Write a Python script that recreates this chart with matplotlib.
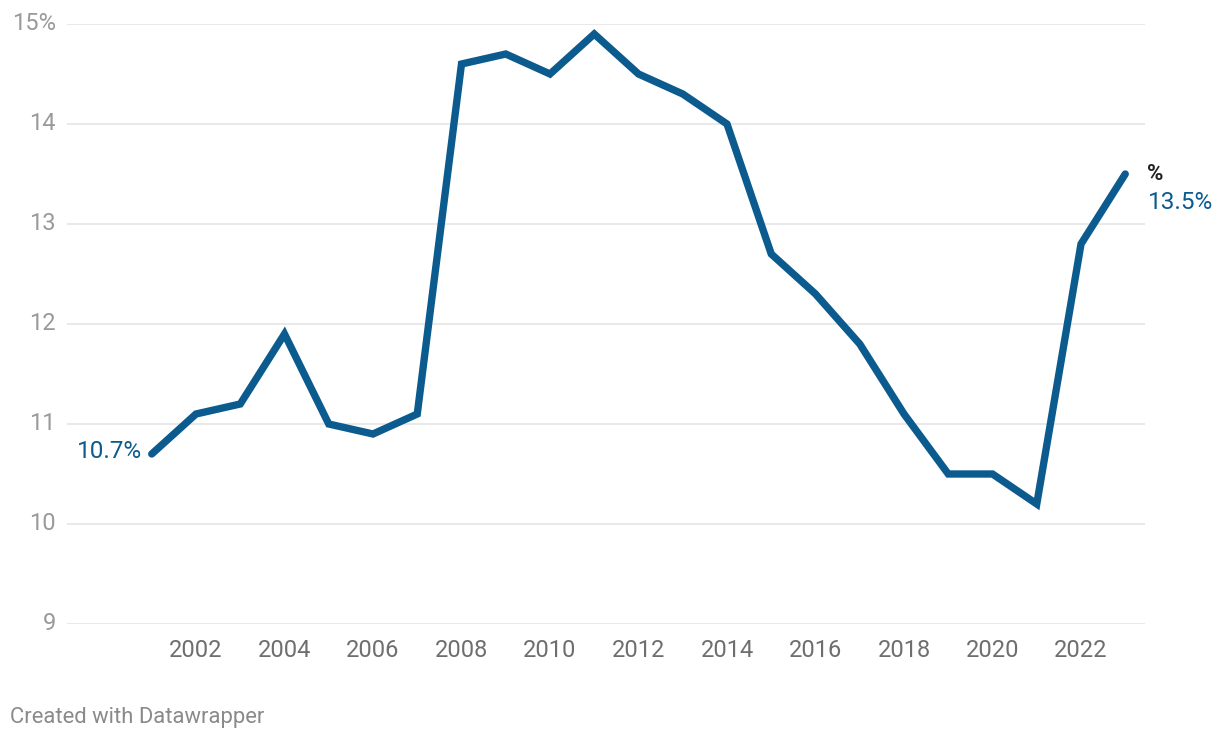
import matplotlib
matplotlib.use("Agg")
import matplotlib.pyplot as plt

years = list(range(2001, 2024))
values = [10.7, 11.1, 11.2, 11.9, 11.0, 10.9, 11.1, 14.6, 14.7, 14.5, 14.9, 14.5,
          14.3, 14.0, 12.7, 12.3, 11.8, 11.1, 10.5, 10.5, 10.2, 12.8, 13.5]
y_ticks = [9, 10, 11, 12, 13, 14, 15]
y_labels = ["9", "10", "11", "12", "13", "14", "15%"]
x_ticks = list(range(2002, 2023, 2))

plt.rcParams['font.family'] = ['Roboto', 'DejaVu Sans']
blue = "#0b5b8f"

fig = plt.figure(figsize=(12.2, 7.4), dpi=100)
ax = fig.add_axes([67/1220, 1-624/740, (1145-67)/1220, 600/740])
ax.set_xlim(1999.085, 2023.446)
ax.set_ylim(9, 15)

for t in y_ticks:
    ax.axhline(t, color="#e3e3e3", lw=1.1, zorder=1)

ax.plot(years, values, color=blue, lw=5.3, solid_capstyle="round",
        solid_joinstyle="miter", zorder=3, clip_on=False)

for s in ax.spines.values():
    s.set_visible(False)
ax.set_yticks(y_ticks)
ax.set_yticklabels(y_labels)
ax.set_xticks(x_ticks)
ax.set_xticklabels([str(x) for x in x_ticks])
ax.tick_params(axis="y", length=0, pad=8, labelsize=17, labelcolor="#9a9a9a")
ax.tick_params(axis="x", length=0, pad=11, labelsize=17, labelcolor="#6e6e6e")
for lab in ax.get_yticklabels():
    lab.set_verticalalignment("center")

ax.annotate(f"{values[0]}%", xy=(years[0], values[0]), xytext=(-7, 2),
            textcoords="offset points", ha="right", va="center",
            fontsize=17.5, color=blue)
ax.annotate("%", xy=(years[-1], values[-1]), xytext=(16, 0),
            textcoords="offset points", ha="left", va="center",
            fontsize=16, color="#222222", fontweight="bold")
ax.annotate(f"{values[-1]}%", xy=(years[-1], values[-1]), xytext=(16, -20.5),
            textcoords="offset points", ha="left", va="center",
            fontsize=17.5, color=blue)

fig.text(10/1220, 1-717/740, "Created with Datawrapper", fontsize=15.8,
         color="#8a8a8a", ha="left", va="center")

fig.savefig("out.png", dpi=100)
